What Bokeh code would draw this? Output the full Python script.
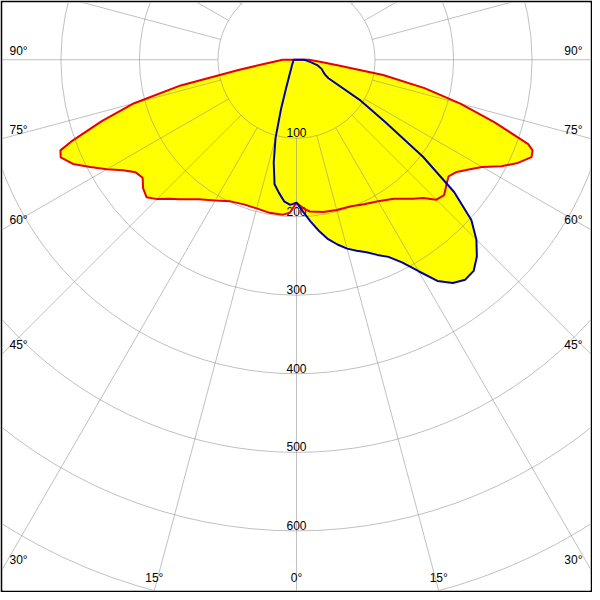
import numpy as np
from bokeh.plotting import figure
from bokeh.models import ColumnDataSource, Range1d
from bokeh.core.properties import value
from bokeh.embed import file_html
from bokeh.resources import INLINE

# ---------------- data (luminous intensity in cd vs gamma angle from nadir, deg) ----------------
# red curve (C0 - C180 plane)
gamma_red = [0, 2.5, 5, 10, 15, 20, 25, 30, 35, 40, 42.5, 45, 47.5, 50, 52.5, 55, 57.5,
             60, 62.5, 65, 67.5, 69, 70, 72.5, 75, 77.5, 80, 82.5, 85, 87.5, 90]
cd_red_right = [182, 189, 194, 197, 198, 199, 203, 208, 216, 231, 239, 252, 255, 249, 244, 249, 260,
                273, 294, 311, 324, 322, 314, 264, 216, 167, 112, 51, 30, 21, 16]
cd_red_left = [182, 195, 198, 198, 196, 196, 199, 207, 217, 232, 240, 251, 259, 255, 247, 250, 262,
               279, 296, 314, 325, 322, 306, 260, 214, 151, 75, 42, 29, 22, 18]

# blue curve (C90 - C270 plane)
gamma_blue_right = [0, 2.5, 5, 7.5, 10, 12.5, 15, 17.5, 20, 22.5, 25, 27.5, 30, 32.5, 35, 37.5, 40,
                    42.5, 45, 47.5, 50, 52.5, 55, 57.5, 60, 62.5, 65, 70, 75, 80, 85, 90]
cd_blue_right = [182, 194, 207, 220, 232, 241, 249, 255, 261, 269, 277, 291, 311, 334, 347, 353, 351,
                 340, 324, 302, 262, 203, 137, 97, 47, 41, 38, 34, 28, 19, 13, 10]
gamma_blue_left = [0, 2.5, 5, 7.5, 10, 12.5, 15, 17.5, 20, 25, 30, 45, 60, 90]
cd_blue_left = [182, 185, 181, 171, 161, 134, 103, 65, 39, 21, 14, 7.5, 5, 4]

# grid
ring_values = [100, 200, 300, 400, 500, 600, 700, 800]
ring_labels = ["100", "200", "300", "400", "500", "600"]
spoke_angles = list(range(0, 360, 15))
side_angles = [90, 75, 60, 45, 30]
bottom_angles = [-15, 0, 15]

# ---------------- layout ----------------
X_HALF = 374.4
Y_TOP = 72.9
Y_BOT = -675.9
SPOKE_START = 100
SPOKE_END = 1200

FONT = value("Liberation Sans")
FSIZE = "12px"
GRID_COLOR = "#8c8c8c"
GRID_ALPHA = 0.55
FILL = "#ffff00"
RED = "#e60000"
BLUE = "#0000aa"

p = figure(width=592, height=592, output_backend="svg", toolbar_location=None,
           x_range=Range1d(-X_HALF, X_HALF), y_range=Range1d(Y_BOT, Y_TOP),
           x_axis_location=None, y_axis_location=None, min_border=2)
p.grid.visible = False
p.border_fill_color = "black"
p.background_fill_color = "white"
p.outline_line_color = None


def side_xy(gammas, cds, sign):
    g = np.radians(np.asarray(gammas, dtype=float))
    c = np.asarray(cds, dtype=float)
    return sign * c * np.sin(g), -c * np.cos(g)


def polygon(g_left, c_left, g_right, c_right):
    lx, ly = side_xy(g_left, c_left, -1)
    rx, ry = side_xy(g_right, c_right, 1)
    xs = np.concatenate([lx[::-1], rx])
    ys = np.concatenate([ly[::-1], ry])
    return xs, ys


red_x, red_y = polygon(gamma_red, cd_red_left, gamma_red, cd_red_right)
blue_x, blue_y = polygon(gamma_blue_left, cd_blue_left, gamma_blue_right, cd_blue_right)

# fills
p.patch(red_x, red_y, fill_color=FILL, line_color=None)
p.patch(blue_x, blue_y, fill_color=FILL, line_color=None)

# grid circles
p.circle(x=[0] * len(ring_values), y=[0] * len(ring_values), radius=ring_values,
         fill_color=None, line_color=GRID_COLOR, line_alpha=GRID_ALPHA, line_width=1)

# spokes
a = np.radians(np.asarray(spoke_angles, dtype=float))
p.segment(x0=SPOKE_START * np.sin(a), y0=-SPOKE_START * np.cos(a),
          x1=SPOKE_END * np.sin(a), y1=-SPOKE_END * np.cos(a),
          line_color=GRID_COLOR, line_alpha=GRID_ALPHA, line_width=1)

# ring labels
ring_src = ColumnDataSource(dict(x=[0] * len(ring_labels),
                                 y=[-v for v in ring_values[:len(ring_labels)]],
                                 t=ring_labels))
p.text(x="x", y="y", text="t", source=ring_src, text_font=FONT, text_font_size=FSIZE,
       text_color="black", text_align="center", text_baseline="bottom", y_offset=-1)

# side angle labels
sa = np.radians(np.asarray(side_angles, dtype=float))
side_y = -X_HALF * np.cos(sa) / np.sin(sa)
side_t = [f"{v}°" for v in side_angles]
p.text(x=[-X_HALF] * len(side_angles), y=side_y, text=side_t, text_font=FONT,
       text_font_size=FSIZE, text_color="black", text_align="left",
       text_baseline="bottom", x_offset=7, y_offset=-2)
p.text(x=[X_HALF] * len(side_angles), y=side_y, text=side_t, text_font=FONT,
       text_font_size=FSIZE, text_color="black", text_align="right",
       text_baseline="bottom", x_offset=-8, y_offset=-2)

# bottom angle labels
ba = np.radians(np.asarray(bottom_angles, dtype=float))
bot_x = -Y_BOT * np.tan(ba)
bot_t = [f"{abs(v)}°" for v in bottom_angles]
p.text(x=bot_x, y=[Y_BOT] * len(bottom_angles), text=bot_t, text_font=FONT,
       text_font_size=FSIZE, text_color="black", text_align="center",
       text_baseline="bottom", y_offset=-6)

# curves
p.line(np.append(red_x, red_x[0]), np.append(red_y, red_y[0]), line_color=RED, line_width=2)
p.line(np.append(blue_x, blue_x[0]), np.append(blue_y, blue_y[0]), line_color=BLUE, line_width=2)

open("out.html", "w").write(file_html(p, INLINE))
